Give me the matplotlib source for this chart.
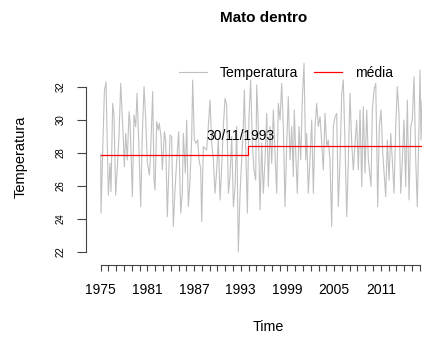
import matplotlib
matplotlib.use("Agg")
import matplotlib.pyplot as plt

plt.rcParams['font.family'] = ['Liberation Sans', 'DejaVu Sans']

# serie mensal (picos e vales)
anos = [1975.00, 1975.04, 1975.47, 1975.68, 1975.98, 1976.20, 1976.32, 1976.54, 1976.71, 1976.92,
        1977.14, 1977.35, 1977.57, 1977.91, 1978.04, 1978.21, 1978.42, 1978.64, 1978.77, 1979.07,
        1979.28, 1979.50, 1979.67, 1979.88, 1980.14, 1980.35, 1980.57, 1980.78, 1980.99, 1981.25,
        1981.38, 1981.68, 1981.85, 1981.98, 1982.20, 1982.41, 1982.53, 1982.75, 1982.92, 1983.05,
        1983.18, 1983.35, 1983.56, 1983.78, 1983.91, 1984.12, 1984.33, 1984.55, 1984.77, 1985.02,
        1985.28, 1985.49, 1985.62, 1985.88, 1986.05, 1986.26, 1986.48, 1986.69, 1986.82, 1987.03,
        1987.25, 1987.47, 1987.64, 1987.85, 1987.98, 1988.19, 1988.62, 1988.83, 1989.05, 1989.27,
        1989.48, 1989.69, 1989.91, 1990.12, 1990.34, 1990.55, 1990.76, 1990.98, 1991.19, 1991.41,
        1991.62, 1991.84, 1992.05, 1992.27, 1992.48, 1992.69, 1992.91, 1993.12, 1993.33, 1993.46,
        1993.63, 1993.85, 1994.06, 1994.27, 1994.49, 1994.70, 1994.92, 1995.05, 1995.26, 1995.48,
        1995.69, 1995.90, 1996.12, 1996.34, 1996.55, 1996.76, 1996.98, 1997.19, 1997.40, 1997.62,
        1997.83, 1998.05, 1998.26, 1998.47, 1998.69, 1998.91, 1999.11, 1999.33, 1999.55, 1999.76,
        1999.88, 2000.10, 2000.27, 2000.49, 2000.71, 2000.91, 2001.13, 2001.35, 2001.48, 2001.68,
        2001.90, 2002.12, 2002.33, 2002.55, 2002.76, 2002.97, 2003.19, 2003.41, 2003.61, 2003.83,
        2004.05, 2004.25, 2004.47, 2004.69, 2004.90, 2005.12, 2005.33, 2005.54, 2005.76, 2005.98,
        2006.18, 2006.40, 2006.62, 2006.83, 2007.04, 2007.26, 2007.47, 2007.69, 2007.90, 2008.11,
        2008.33, 2008.55, 2008.75, 2008.97, 2009.19, 2009.40, 2009.61, 2009.74, 2009.91, 2010.13,
        2010.35, 2010.48, 2010.60, 2010.81, 2011.03, 2011.25, 2011.45, 2011.63, 2011.84, 2012.06,
        2012.28, 2012.48, 2012.70, 2012.92, 2013.12, 2013.34, 2013.56, 2013.77, 2013.98, 2014.20,
        2014.41, 2014.63, 2014.85, 2015.05, 2015.27, 2015.49, 2015.69, 2015.91, 2016.04, 2016.17,
        2016.30]
temperatura = [27.90, 24.35, 31.72, 32.32, 25.45, 27.37, 25.66, 31.01, 30.30, 25.45,
               27.17, 28.99, 32.22, 28.79, 27.17, 29.19, 27.58, 30.50, 29.90, 25.35,
               30.30, 29.60, 31.62, 28.79, 24.75, 29.19, 32.02, 30.10, 27.47, 26.67,
               27.58, 31.72, 26.36, 25.76, 29.90, 29.39, 29.80, 28.99, 26.97, 27.98,
               29.29, 28.79, 24.14, 27.17, 29.09, 28.99, 23.54, 25.76, 27.58, 29.29,
               24.35, 25.56, 29.19, 26.77, 30.00, 24.75, 26.36, 28.89, 32.42, 28.79,
               28.59, 28.79, 27.58, 27.07, 23.84, 28.38, 28.18, 29.60, 31.21, 28.59,
               27.58, 25.56, 26.97, 28.89, 25.15, 27.17, 29.60, 31.31, 30.91, 25.56,
               26.57, 28.99, 24.75, 25.96, 29.60, 22.02, 25.56, 27.58, 29.60, 31.82,
               28.59, 24.35, 30.20, 32.42, 28.59, 26.97, 26.36, 32.12, 29.60, 24.55,
               28.59, 25.56, 27.58, 30.40, 25.96, 29.60, 27.37, 30.61, 27.98, 25.56,
               31.01, 30.00, 32.22, 29.60, 24.75, 28.59, 31.41, 27.58, 29.60, 26.57,
               30.61, 27.58, 25.56, 29.60, 27.58, 31.21, 33.43, 27.58, 29.19, 25.56,
               27.58, 30.00, 25.56, 29.60, 31.01, 29.60, 30.20, 28.59, 26.97, 30.40,
               28.38, 28.79, 27.58, 23.54, 29.60, 30.20, 30.40, 24.75, 27.58, 31.62,
               32.42, 28.59, 24.14, 27.58, 31.62, 28.59, 26.97, 28.59, 30.00, 26.97,
               30.61, 25.96, 30.81, 26.77, 30.61, 27.58, 26.57, 25.96, 30.61, 31.82,
               32.22, 28.59, 24.75, 29.60, 30.61, 27.98, 26.57, 25.35, 28.79, 26.36,
               29.19, 27.58, 25.56, 29.60, 32.02, 30.40, 25.56, 27.58, 30.00, 25.96,
               31.21, 25.15, 29.60, 30.00, 32.63, 27.58, 24.75, 29.60, 33.03, 28.79,
               31.21]

media_antes = 27.87
media_depois = 28.42
ano_quebra = 1993.91
ano_fim = 2016.5
rotulo_quebra = "30/11/1993"

anos_ticks = list(range(1975, 2017))
anos_rotulos = [1975, 1981, 1987, 1993, 1999, 2005, 2011]
y_ticks = [22, 24, 26, 28, 30, 32]

W, H = 422, 338
fig = plt.figure(figsize=(W / 100, H / 100), dpi=100)
ax = fig.add_axes([86 / W, 73 / H, 360 / W, 210 / H])

ax.plot(anos, temperatura, color="#c0c0c0", lw=0.8, label="Temperatura")
ax.plot([anos[0], ano_quebra, ano_quebra, ano_fim],
        [media_antes, media_antes, media_depois, media_depois],
        color="red", lw=0.9, label="média")
ax.text(1993, 29.0, rotulo_quebra, ha="center", va="center", fontsize=10)

ax.set_xlim(1973.11, 2019.38)
ax.set_ylim(21.21, 33.94)

for s in ["top", "right"]:
    ax.spines[s].set_visible(False)
for s in ["left", "bottom"]:
    ax.spines[s].set_linewidth(0.8)
    ax.spines[s].set_color("#444444")
ax.spines["left"].set_bounds(y_ticks[0], y_ticks[-1])
ax.spines["bottom"].set_bounds(anos_ticks[0], anos_ticks[-1])

ax.set_xticks(anos_ticks)
ax.set_xticklabels([str(a) if a in anos_rotulos else "" for a in anos_ticks], fontsize=10)
ax.tick_params(axis="x", length=4.3, width=0.8, color="#444444", pad=8.5)
ax.set_yticks(y_ticks)
ax.set_yticklabels([str(v) for v in y_ticks], rotation=90, va="center", fontsize=7)
ax.tick_params(axis="y", length=6.5, width=0.8, color="#444444", pad=8)

ax.legend(loc="center", bbox_to_anchor=(286 / W, 1 - 73 / H), bbox_transform=fig.transFigure,
          ncol=2, frameon=False, fontsize=10, handlelength=2.0, handletextpad=0.95,
          columnspacing=1.15)

fig.text(264 / W, 1 - 18 / H, "Mato dentro", ha="center", va="center", fontsize=11, fontweight="bold")
fig.text(21 / W, 1 - 157 / H, "Temperatura", rotation=90, ha="center", va="center", fontsize=10.5)
fig.text(268 / W, 1 - 327 / H, "Time", ha="center", va="center", fontsize=10.3)

fig.savefig("out.png", dpi=100)
